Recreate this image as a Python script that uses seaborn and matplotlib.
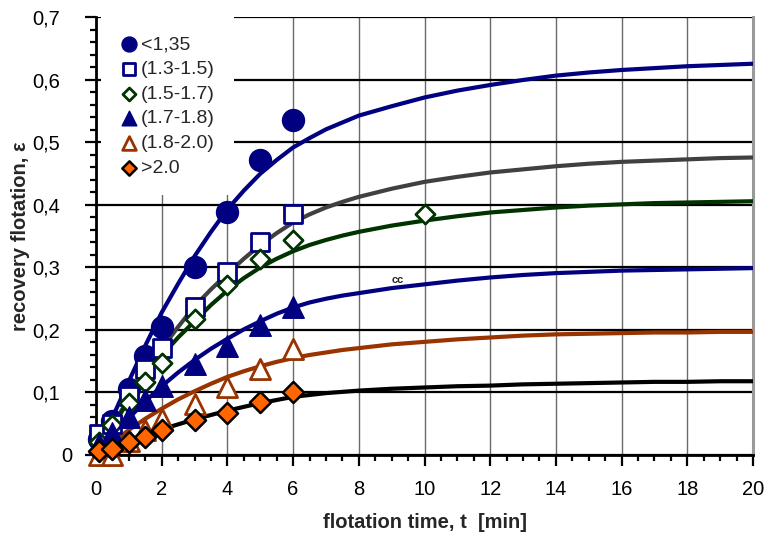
import numpy as np
import pandas as pd
import matplotlib
matplotlib.use("Agg")
import matplotlib.pyplot as plt
from matplotlib.ticker import MultipleLocator, FixedLocator, FixedFormatter
from matplotlib.transforms import ScaledTranslation
import seaborn as sns

# ---------------- data ----------------
t_meas = [0.1, 0.5, 1, 1.5, 2, 3, 4, 5, 6]
t_meas_ext = [0.1, 0.5, 1, 1.5, 2, 3, 4, 5, 6, 10]

lt135 = [0.025, 0.055, 0.105, 0.158, 0.205, 0.301, 0.389, 0.472, 0.536]
r13_15 = [0.033, 0.050, 0.094, 0.137, 0.171, 0.237, 0.293, 0.340, 0.385]
r15_17 = [0.020, 0.048, 0.083, 0.117, 0.147, 0.217, 0.272, 0.313, 0.344, 0.385]
r17_18 = [0.018, 0.035, 0.060, 0.088, 0.110, 0.146, 0.175, 0.208, 0.237]
r18_20 = [0.000, 0.000, 0.022, 0.040, 0.057, 0.081, 0.108, 0.137, 0.170]
gt20 = [0.006, 0.009, 0.020, 0.028, 0.040, 0.056, 0.067, 0.084, 0.100]

# fitted curves, values at these times
t_fit = [0, 0.5, 1, 1.5, 2, 2.5, 3, 3.5, 4, 4.5, 5, 5.5, 6, 6.5, 7, 7.5, 8,
         9, 10, 11, 12, 13, 14, 15, 16, 17, 18, 19, 20]
fit_lt135 = [0, .060, .118, .175, .228, .274, .318, .357, .393, .423, .450,
             .472, .492, .507, .521, .532, .543, .558, .572, .583, .592, .600,
             .607, .612, .616, .619, .622, .624, .626]
fit_13_15 = [0, .048, .090, .130, .170, .205, .238, .265, .290, .314, .336,
             .355, .372, .385, .396, .405, .413, .426, .437, .445, .452, .457,
             .462, .466, .469, .471, .473, .475, .476]
fit_15_17 = [0, .045, .088, .126, .159, .188, .214, .240, .263, .283, .300,
             .314, .326, .336, .344, .351, .357, .367, .375, .382, .388, .392,
             .396, .399, .401, .403, .404, .405, .406]
fit_17_18 = [0, .030, .059, .086, .110, .132, .152, .170, .186, .201, .214,
             .226, .236, .244, .250, .255, .259, .267, .273, .279, .284, .288,
             .291, .293, .295, .296, .297, .298, .299]
fit_18_20 = [0, .020, .040, .058, .074, .089, .102, .114, .125, .134, .142,
             .149, .155, .160, .164, .168, .171, .177, .181, .185, .188, .191,
             .193, .194, .195, .196, .196, .197, .197]
fit_gt20 = [0, .011, .022, .032, .041, .049, .057, .064, .071, .077, .083,
            .088, .093, .096, .099, .101, .103, .106, .108, .110, .111, .113,
            .114, .115, .116, .117, .117, .118, .118]

labels = ["<1,35", "(1.3-1.5)", "(1.5-1.7)", "(1.7-1.8)", "(1.8-2.0)", ">2.0"]
x_ticks = [0, 2, 4, 6, 8, 10, 12, 14, 16, 18, 20]
x_tick_labels = ["0", "2", "4", "6", "8", "10", "12", "14", "16", "18", "20"]
y_ticks = [0, 0.1, 0.2, 0.3, 0.4, 0.5, 0.6, 0.7]
y_tick_labels = ["0", "0,1", "0,2", "0,3", "0,4", "0,5", "0,6", "0,7"]

# ---------------- style ----------------
sns.set_theme(style="white")
plt.rcParams["font.family"] = ["Liberation Sans", "DejaVu Sans"]

NAVY = "#000080"
GRAY = "#404040"
GREEN = "#003300"
BROWN = "#993300"
ORANGE = "#FF6600"

fig = plt.figure(figsize=(7.68, 5.38), dpi=100)
ax = fig.add_axes([0.125, 0.1543, 0.8555, 0.8132])

# curves
curves = [(fit_lt135, NAVY), (fit_13_15, GRAY), (fit_15_17, GREEN),
          (fit_17_18, NAVY), (fit_18_20, BROWN), (fit_gt20, "black")]
for vals, col in curves:
    sns.lineplot(x=t_fit, y=vals, color=col, lw=3.0, ax=ax, zorder=3,
                 legend=False, solid_joinstyle="round",
                 solid_capstyle="round")

# measured points
series = [
    (t_meas, lt135, "o", NAVY, NAVY, 250, 1.0),
    (t_meas, r13_15, "s", "white", NAVY, 170, 2.0),
    (t_meas_ext, r15_17, "D", "white", GREEN, 95, 2.0),
    (t_meas, r17_18, "^", NAVY, NAVY, 240, 1.0),
    (t_meas, r18_20, "^", "white", BROWN, 210, 2.0),
    (t_meas, gt20, "D", ORANGE, "black", 115, 1.8),
]
for (tx, vy, mk, fc, ec, s, lw), lab in zip(series, labels):
    sns.scatterplot(x=tx, y=vy, marker=mk, s=s, color=fc, edgecolor=ec,
                    linewidth=lw, ax=ax, zorder=4, label=lab, clip_on=False)

ax.text(9.2, 0.28, "cc", fontsize=8, fontweight="bold", ha="center",
        va="center", zorder=5)

# axes
ax.set_xlim(0, 20)
ax.set_ylim(0, 0.7)
ax.xaxis.set_major_locator(FixedLocator(x_ticks))
ax.xaxis.set_major_formatter(FixedFormatter(x_tick_labels))
ax.yaxis.set_major_locator(FixedLocator(y_ticks))
ax.yaxis.set_major_formatter(FixedFormatter(y_tick_labels))
ax.xaxis.set_minor_locator(MultipleLocator(0.5))
ax.yaxis.set_minor_locator(MultipleLocator(0.02))

ax.set_axisbelow(True)
ax.yaxis.grid(True, which="major", color="black", lw=1.6)
ax.xaxis.grid(True, which="major", color="#6a6a6a", lw=1.0)

ax.tick_params(axis="both", which="major", direction="out", length=8,
               width=1.6, colors="black", labelsize=14.5, bottom=True,
               left=True)
ax.tick_params(axis="x", which="major", pad=10)
ax.tick_params(axis="y", which="major", pad=18)
ax.tick_params(axis="both", which="minor", direction="out", length=4.5,
               width=1.6, colors="black", bottom=True, left=True)

for side in ["left", "bottom"]:
    ax.spines[side].set_color("black")
    ax.spines[side].set_linewidth(2)
ax.spines["top"].set_visible(False)
ax.spines["right"].set_color("#9a9a9a")
ax.spines["right"].set_linewidth(2.2)

ax.set_xlabel("flotation time, t  [min]", fontsize=14.5, fontweight="bold")
ax.set_ylabel("recovery flotation, ε", fontsize=14.5, fontweight="bold")
ax.xaxis.set_label_coords(0.5, -0.1326)
ax.yaxis.set_label_coords(-0.100, 0.5)

leg = ax.legend(loc="upper left", bbox_to_anchor=(0.0075, 1.0),
                frameon=True, fancybox=False, facecolor="white",
                edgecolor="none", framealpha=1, fontsize=14,
                markerscale=0.68, handlelength=1.0, handletextpad=0.12,
                labelspacing=0.36, borderpad=0.95, borderaxespad=0)
leg.set_zorder(6)

# the "0" label of the y axis sits further right in the reference
fig.canvas.draw()
zero_lbl = ax.yaxis.get_major_ticks()[0].label1
zero_lbl.set_transform(zero_lbl.get_transform() +
                       ScaledTranslation(9 / 72, 0, fig.dpi_scale_trans))

fig.savefig("out.png", dpi=100)
